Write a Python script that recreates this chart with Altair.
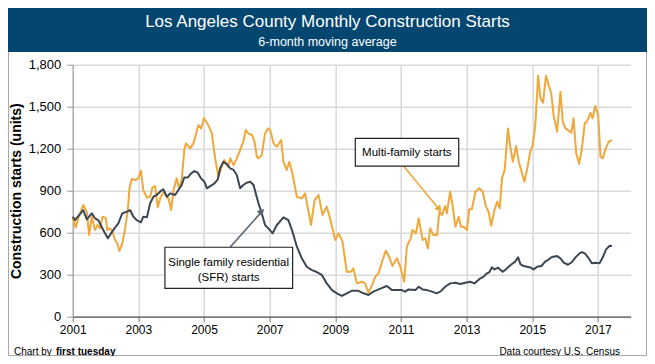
import altair as alt
import pandas as pd

# ---------------- data ----------------
mf_years = [2001.00, 2001.09, 2001.17, 2001.32, 2001.43, 2001.50, 2001.58, 2001.68, 2001.76, 2001.83,
            2001.91, 2002.01, 2002.05, 2002.14, 2002.21, 2002.29, 2002.36, 2002.42, 2002.51, 2002.59,
            2002.68, 2002.73, 2002.80, 2002.90, 2003.00, 2003.08, 2003.15, 2003.26, 2003.36, 2003.43,
            2003.51, 2003.59, 2003.68, 2003.78, 2003.87, 2003.92, 2004.00, 2004.07, 2004.17, 2004.24,
            2004.32, 2004.40, 2004.45, 2004.58, 2004.68, 2004.83, 2004.91, 2005.00, 2005.13, 2005.24,
            2005.34, 2005.44, 2005.54, 2005.62, 2005.73, 2005.80, 2005.90, 2006.00, 2006.10, 2006.20,
            2006.27, 2006.35, 2006.46, 2006.54, 2006.61, 2006.66, 2006.76, 2006.86, 2006.96, 2007.02,
            2007.12, 2007.22, 2007.35, 2007.42, 2007.52, 2007.60, 2007.68, 2007.83, 2007.98, 2008.08,
            2008.26, 2008.37, 2008.49, 2008.61, 2008.74, 2008.84, 2009.00, 2009.10, 2009.22, 2009.35,
            2009.48, 2009.55, 2009.66, 2009.81, 2009.91, 2010.01, 2010.12, 2010.22, 2010.32, 2010.44,
            2010.54, 2010.64, 2010.74, 2010.88, 2010.98, 2011.10, 2011.18, 2011.30, 2011.35, 2011.46,
            2011.54, 2011.66, 2011.74, 2011.82, 2011.89, 2011.99, 2012.10, 2012.17, 2012.25, 2012.35,
            2012.40, 2012.50, 2012.57, 2012.66, 2012.76, 2012.83, 2012.91, 2013.01, 2013.08, 2013.16,
            2013.27, 2013.39, 2013.49, 2013.59, 2013.67, 2013.75, 2013.85, 2013.93, 2014.01, 2014.08,
            2014.16, 2014.26, 2014.33, 2014.41, 2014.51, 2014.59, 2014.69, 2014.76, 2014.84, 2014.94,
            2015.01, 2015.09, 2015.18, 2015.25, 2015.33, 2015.42, 2015.50, 2015.58, 2015.65, 2015.76,
            2015.86, 2015.93, 2016.01, 2016.11, 2016.19, 2016.26, 2016.34, 2016.43, 2016.52, 2016.60,
            2016.67, 2016.77, 2016.84, 2016.92, 2017.01, 2017.08, 2017.15, 2017.23, 2017.33, 2017.43]
mf_values = [714, 638, 703, 798, 750, 584, 714, 619, 655, 631,
             714, 703, 619, 631, 607, 548, 524, 469, 524, 619,
             762, 917, 983, 976, 988, 1043, 905, 850, 857, 924,
             933, 781, 857, 890, 852, 845, 762, 905, 988, 917,
             976, 1190, 1238, 1202, 1238, 1369, 1345, 1417, 1369, 1310,
             1131, 1000, 1071, 1119, 1071, 1131, 1083, 1131, 1190, 1250,
             1333, 1310, 1298, 1250, 1143, 1131, 1155, 1310, 1345, 1333,
             1238, 1214, 1262, 1107, 1048, 1107, 1036, 857, 845, 881,
             655, 833, 869, 726, 786, 703, 548, 595, 536, 321,
             321, 345, 238, 250, 238, 171, 226, 286, 310, 405,
             471, 429, 362, 417, 357, 250, 500, 560, 619, 595,
             703, 548, 560, 488, 631, 584, 584, 750, 726, 791,
             738, 893, 798, 643, 714, 643, 643, 619, 767, 767,
             893, 917, 893, 786, 750, 650, 762, 821, 774, 988,
             1048, 1345, 1214, 1107, 1219, 1107, 1024, 964, 1048, 1179,
             1219, 1357, 1721, 1560, 1529, 1721, 1655, 1595, 1440, 1321,
             1607, 1393, 1345, 1329, 1314, 1417, 1167, 1090, 1214, 1381,
             1393, 1457, 1417, 1505, 1440, 1143, 1131, 1195, 1250, 1262]

sfr_years = [2001.00, 2001.07, 2001.32, 2001.43, 2001.58, 2001.68, 2001.78, 2001.88, 2001.96, 2002.07,
             2002.17, 2002.27, 2002.39, 2002.51, 2002.65, 2002.75, 2002.85, 2002.95, 2003.08, 2003.15,
             2003.26, 2003.36, 2003.46, 2003.56, 2003.66, 2003.76, 2003.87, 2003.97, 2004.12, 2004.32,
             2004.40, 2004.51, 2004.61, 2004.71, 2004.81, 2004.91, 2005.01, 2005.09, 2005.19, 2005.32,
             2005.42, 2005.49, 2005.59, 2005.70, 2005.80, 2005.90, 2006.00, 2006.10, 2006.20, 2006.30,
             2006.41, 2006.51, 2006.59, 2006.66, 2006.76, 2006.86, 2006.96, 2007.09, 2007.22, 2007.42,
             2007.57, 2007.68, 2007.83, 2007.98, 2008.13, 2008.29, 2008.42, 2008.59, 2008.74, 2008.90,
             2009.05, 2009.20, 2009.35, 2009.51, 2009.69, 2009.86, 2010.01, 2010.16, 2010.32, 2010.47,
             2010.57, 2010.73, 2010.88, 2011.03, 2011.13, 2011.23, 2011.44, 2011.54, 2011.66, 2011.79,
             2011.95, 2012.08, 2012.20, 2012.35, 2012.50, 2012.66, 2012.81, 2012.96, 2013.11, 2013.24,
             2013.42, 2013.52, 2013.62, 2013.69, 2013.77, 2013.85, 2013.96, 2014.10, 2014.20, 2014.28,
             2014.38, 2014.48, 2014.57, 2014.64, 2014.74, 2014.94, 2015.04, 2015.15, 2015.28, 2015.40,
             2015.50, 2015.60, 2015.76, 2015.86, 2015.96, 2016.09, 2016.21, 2016.34, 2016.44, 2016.52,
             2016.62, 2016.72, 2016.82, 2016.95, 2017.05, 2017.15, 2017.25, 2017.36, 2017.43]
sfr_values = [714, 690, 762, 695, 738, 703, 690, 643, 607, 560,
              595, 631, 667, 738, 750, 762, 714, 690, 674, 714,
              710, 810, 857, 869, 893, 910, 857, 881, 869, 941,
              995, 995, 1024, 1040, 1029, 988, 964, 917, 933, 952,
              981, 1060, 1107, 1088, 1060, 1048, 1012, 917, 941, 957,
              964, 941, 869, 810, 738, 655, 631, 595, 655, 710,
              690, 619, 500, 417, 357, 333, 321, 298, 238, 190,
              167, 148, 167, 186, 186, 167, 155, 179, 195, 210,
              219, 190, 190, 190, 179, 195, 190, 214, 195, 190,
              179, 167, 179, 214, 238, 243, 233, 243, 250, 238,
              274, 286, 310, 317, 352, 338, 350, 321, 338, 357,
              376, 393, 424, 376, 362, 352, 338, 357, 362, 395,
              408, 427, 433, 417, 386, 371, 391, 429, 452, 462,
              448, 417, 381, 386, 381, 424, 481, 507, 505]

series_names = ["Multi-family starts", "Single family residential (SFR) starts"]
series_colors = ["#EEA83B", "#3D4752"]

x_ticks = [2001, 2003, 2005, 2007, 2009, 2011, 2013, 2015, 2017]
y_ticks = [0, 300, 600, 900, 1200, 1500, 1800]

title_text = "Los Angeles County Monthly Construction Starts"
subtitle_text = "6-month moving average"
y_title = "Construction starts (units)"
footer_left_a = "Chart by"
footer_left_b = "first tuesday"
footer_right = "Data courtesy U.S. Census"

# annotations (in data coordinates)
sfr_box = {"year": [2003.81], "year2": [2007.70], "value": [496], "value2": [203]}
sfr_lines = {"year": [2005.75, 2005.75], "value": [384, 276],
             "text": ["Single family residential", "(SFR) starts"]}
sfr_arrow = {"year": [2005.80], "year2": [2006.72], "value": [498], "value2": [740]}
sfr_head = {"year": [2006.76], "value": [752]}

mf_box = {"year": [2009.61], "year2": [2012.76], "value": [1274], "value2": [1076]}
mf_lines = {"year": [2011.18], "value": [1167], "text": ["Multi-family starts"]}
mf_arrow = {"year": [2011.08], "year2": [2012.12], "value": [1076], "value2": [780]}
mf_head = {"year": [2012.17], "value": [768]}

# ---------------- layout ----------------
FONT = "Liberation Sans, Arial, Helvetica, sans-serif"
W, H = 558, 252
PL, PT, PR, PB = 64.7, 56.7, 16.3, 39.3

lines_df = pd.concat([
    pd.DataFrame({"year": mf_years, "value": mf_values, "series": series_names[0]}),
    pd.DataFrame({"year": sfr_years, "value": sfr_values, "series": series_names[1]}),
], ignore_index=True)

xscale = alt.Scale(domain=[2001, 2018], nice=False, zero=False)
yscale = alt.Scale(domain=[0, 1800], nice=False)
xaxis = alt.Axis(values=x_ticks, format="d", title=None, grid=True, gridColor="#D9D9D9",
                 gridWidth=1.5, domainColor="#555555", domainWidth=1.2, tickColor="#777777",
                 tickSize=5, labelFontSize=12, labelColor="#000000", labelPadding=3,
                 labelFont=FONT, labelFlush=False)
yaxis = alt.Axis(values=y_ticks, format=",.0f", title=y_title, grid=True, gridColor="#D9D9D9",
                 gridWidth=1.5, domainColor="#9A9A9A", tickColor="#9A9A9A", tickSize=6,
                 labelFontSize=13, labelColor="#000000", labelPadding=6, labelFont=FONT,
                 titleFont=FONT, titleFontSize=14, titleFontWeight="bold", titleColor="#000000",
                 titleX=-56, titleY=H / 2, titleAngle=-90, titleAlign="center",
                 titleBaseline="middle")

X = alt.X("year:Q", scale=xscale, axis=xaxis)
Y = alt.Y("value:Q", scale=yscale, axis=yaxis)

one = pd.DataFrame({"k": [0]})

frame = alt.Chart(one).mark_rect(fillOpacity=0, stroke="#A8A8A8", strokeWidth=1).encode(
    x=alt.value(-PL + 0.5), x2=alt.value(W + PR - 0.5),
    y=alt.value(-PT + 0.5), y2=alt.value(H + PB - 0.5))

title_bar = alt.Chart(one).mark_rect(fill="#03466F").encode(
    x=alt.value(-PL), x2=alt.value(W + PR), y=alt.value(-PT), y2=alt.value(-12.7))

title = alt.Chart(pd.DataFrame({"text": [title_text]})).mark_text(
    align="center", baseline="alphabetic", fontSize=17, color="white", font=FONT).encode(
    x=alt.value(254.8), y=alt.value(-37.7), text="text:N")

subtitle = alt.Chart(pd.DataFrame({"text": [subtitle_text]})).mark_text(
    align="center", baseline="alphabetic", fontSize=12.5, color="white", font=FONT).encode(
    x=alt.value(254.8), y=alt.value(-19), text="text:N")

lines = alt.Chart(lines_df).mark_line(strokeWidth=2, strokeJoin="round").encode(
    x=X, y=Y,
    color=alt.Color("series:N", scale=alt.Scale(domain=series_names, range=series_colors),
                    legend=None),
    detail="series:N")

def box(d):
    return alt.Chart(pd.DataFrame(d)).mark_rect(fill="white", stroke="#222222",
                                                strokeWidth=1.2).encode(
        x=X, x2="year2:Q", y=Y, y2="value2:Q")

def label(d):
    return alt.Chart(pd.DataFrame(d)).mark_text(
        align="center", baseline="middle", fontSize=11.5, color="#000000", font=FONT).encode(
        x=X, y=Y, text="text:N")

def arrow(d, color):
    return alt.Chart(pd.DataFrame(d)).mark_rule(color=color, strokeWidth=1.6).encode(
        x=X, x2="year2:Q", y=Y, y2="value2:Q")

def head(d, color, ang):
    return alt.Chart(pd.DataFrame(d)).mark_point(
        shape="triangle-up", filled=True, size=60, angle=ang, color=color, opacity=1).encode(
        x=X, y=Y)

footer_a = alt.Chart(pd.DataFrame({"text": [footer_left_a]})).mark_text(
    align="left", baseline="alphabetic", fontSize=10, color="#000000", font=FONT).encode(
    x=alt.value(14 - 72.7), y=alt.value(355 - 64.7), text="text:N")
footer_b = alt.Chart(pd.DataFrame({"text": [footer_left_b]})).mark_text(
    align="left", baseline="alphabetic", fontSize=10, fontWeight="bold", color="#000000",
    font=FONT).encode(x=alt.value(56 - 72.7), y=alt.value(355 - 64.7), text="text:N")
footer_c = alt.Chart(pd.DataFrame({"text": [footer_right]})).mark_text(
    align="right", baseline="alphabetic", fontSize=10, color="#000000", font=FONT).encode(
    x=alt.value(620 - 72.7), y=alt.value(355 - 64.7), text="text:N")

chart = alt.layer(
    frame, title_bar, title, subtitle, lines,
    arrow(sfr_arrow, "#56626E"), head(sfr_head, "#56626E", 42),
    arrow(mf_arrow, series_colors[0]), head(mf_head, series_colors[0], 141),
    box(sfr_box), label(sfr_lines), box(mf_box), label(mf_lines),
    footer_a, footer_b, footer_c,
).properties(
    width=W, height=H,
    autosize=alt.AutoSizeParams(type="none"),
    padding={"left": PL, "top": PT, "right": PR, "bottom": PB},
    background="white",
).configure_view(stroke=None)

chart.save("out.html", embed_options={"renderer": "svg", "actions": False})
